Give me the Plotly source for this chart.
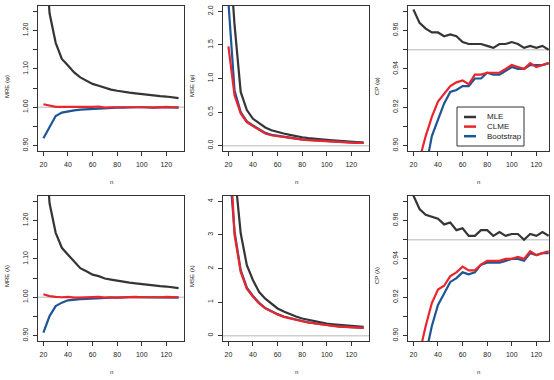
import plotly.graph_objects as go

W, H = 554, 380

n = list(range(20, 131, 5))

# MRE (phi)
mre_phi_mle = [1.48, 1.245, 1.168, 1.126, 1.109, 1.091, 1.078, 1.069, 1.061, 1.056, 1.050, 1.046,
               1.043, 1.040, 1.038, 1.036, 1.034, 1.032, 1.031, 1.029, 1.028, 1.026, 1.024]
mre_phi_clme = [1.008, 1.004, 1.001, 1.001, 1.001, 1.000, 1.000, 1.000, 1.001, 1.002, 0.999, 1.000,
                1.000, 1.000, 1.001, 1.001, 1.000, 1.000, 0.999, 1.000, 1.001, 1.000, 1.000]
mre_phi_boot = [0.919, 0.949, 0.977, 0.986, 0.990, 0.992, 0.994, 0.995, 0.997, 0.998, 0.998, 0.999,
                0.999, 0.999, 1.000, 1.000, 1.000, 0.999, 0.999, 1.000, 1.000, 0.999, 0.999]

# MSE (phi)
mse_phi_mle = [3.1, 1.80, 0.80, 0.53, 0.40, 0.33, 0.27, 0.23, 0.20, 0.18, 0.16, 0.14,
               0.125, 0.112, 0.10, 0.092, 0.085, 0.078, 0.07, 0.062, 0.055, 0.05, 0.045]
mse_phi_clme = [1.48, 0.75, 0.48, 0.35, 0.29, 0.23, 0.18, 0.155, 0.14, 0.127, 0.115, 0.10,
                0.09, 0.082, 0.075, 0.07, 0.065, 0.06, 0.055, 0.05, 0.045, 0.042, 0.04]
mse_phi_boot = [2.14, 0.82, 0.50, 0.36, 0.30, 0.24, 0.19, 0.16, 0.145, 0.13, 0.118, 0.103,
                0.093, 0.085, 0.078, 0.072, 0.067, 0.062, 0.057, 0.052, 0.047, 0.044, 0.041]

# CP (phi)
cp_phi_mle = [0.971, 0.964, 0.961, 0.959, 0.959, 0.957, 0.958, 0.957, 0.954, 0.953, 0.953, 0.953,
              0.952, 0.951, 0.953, 0.953, 0.954, 0.953, 0.951, 0.952, 0.951, 0.952, 0.950]
cp_phi_clme = [0.870, 0.893, 0.905, 0.915, 0.923, 0.927, 0.931, 0.933, 0.934, 0.932, 0.937, 0.937,
               0.938, 0.938, 0.938, 0.940, 0.942, 0.941, 0.940, 0.943, 0.941, 0.942, 0.943]
cp_phi_boot = [0.850, 0.870, 0.888, 0.905, 0.914, 0.922, 0.928, 0.929, 0.931, 0.931, 0.935, 0.935,
               0.938, 0.937, 0.937, 0.939, 0.941, 0.940, 0.940, 0.942, 0.942, 0.942, 0.943]

# MRE (lambda)
mre_lam_mle = [1.48, 1.245, 1.168, 1.129, 1.111, 1.092, 1.076, 1.068, 1.059, 1.055, 1.049, 1.046,
               1.043, 1.040, 1.038, 1.036, 1.034, 1.032, 1.031, 1.029, 1.028, 1.026, 1.024]
mre_lam_clme = [1.008, 1.003, 1.001, 1.000, 1.001, 0.999, 0.999, 1.000, 1.000, 1.001, 0.999, 1.000,
                0.999, 1.000, 1.000, 1.001, 1.000, 1.000, 0.999, 1.000, 1.001, 1.000, 1.000]
mre_lam_boot = [0.908, 0.951, 0.977, 0.986, 0.992, 0.994, 0.995, 0.996, 0.997, 0.998, 0.999, 0.999,
                0.999, 1.000, 1.000, 1.000, 1.000, 0.999, 0.999, 1.000, 1.000, 0.999, 0.999]

# MSE (lambda)
mse_lam_mle = [9.0, 4.92, 3.05, 2.1, 1.65, 1.3, 1.1, 0.96, 0.81, 0.72, 0.64, 0.57,
               0.51, 0.47, 0.43, 0.39, 0.36, 0.34, 0.32, 0.30, 0.29, 0.275, 0.26]
mse_lam_clme = [6.4, 3.0, 1.9, 1.4, 1.16, 0.96, 0.81, 0.71, 0.63, 0.56, 0.51, 0.47,
                0.43, 0.39, 0.36, 0.33, 0.31, 0.29, 0.27, 0.26, 0.25, 0.24, 0.23]
mse_lam_boot = [5.4, 3.1, 1.95, 1.43, 1.18, 0.98, 0.82, 0.72, 0.64, 0.57, 0.52, 0.475,
                0.435, 0.395, 0.365, 0.335, 0.315, 0.295, 0.275, 0.262, 0.252, 0.242, 0.232]

# CP (lambda)
cp_lam_mle = [0.973, 0.966, 0.963, 0.962, 0.961, 0.958, 0.959, 0.955, 0.956, 0.952, 0.952, 0.955,
              0.955, 0.952, 0.954, 0.952, 0.953, 0.953, 0.950, 0.953, 0.952, 0.954, 0.952]
cp_lam_clme = [0.870, 0.891, 0.905, 0.917, 0.924, 0.926, 0.931, 0.933, 0.936, 0.934, 0.934, 0.937,
               0.939, 0.939, 0.939, 0.940, 0.940, 0.941, 0.940, 0.944, 0.942, 0.943, 0.944]
cp_lam_boot = [0.850, 0.870, 0.890, 0.905, 0.916, 0.922, 0.928, 0.930, 0.933, 0.932, 0.933, 0.937,
               0.938, 0.938, 0.938, 0.939, 0.940, 0.940, 0.939, 0.943, 0.942, 0.943, 0.943]

series_names = ["MLE", "CLME", "Bootstrap"]
ytitles = ["MRE (φ)", "MSE (φ)", "CP (φ)", "MRE (λ)", "MSE (λ)", "CP (λ)"]
x_tick_vals = [20, 40, 60, 80, 100, 120]

mre_ticks = [0.90, 0.95, 1.00, 1.05, 1.10, 1.15, 1.20, 1.25]
mre_labels = ["0.90", "", "1.00", "", "1.10", "", "1.20", ""]
mse_phi_ticks = [0.0, 0.5, 1.0, 1.5, 2.0]
mse_phi_labels = ["0.0", "0.5", "1.0", "1.5", "2.0"]
mse_lam_ticks = [0, 1, 2, 3, 4]
mse_lam_labels = ["0", "1", "2", "3", "4"]
cp_ticks = [0.90, 0.91, 0.92, 0.93, 0.94, 0.95, 0.96, 0.97]
cp_labels = ["0.90", "", "0.92", "", "0.94", "", "0.96", ""]

panels = [
    (mre_phi_mle, mre_phi_clme, mre_phi_boot, [0.886, 1.264], mre_ticks, mre_labels, 1.0),
    (mse_phi_mle, mse_phi_clme, mse_phi_boot, [-0.08, 2.08], mse_phi_ticks, mse_phi_labels, 0.0),
    (cp_phi_mle, cp_phi_clme, cp_phi_boot, [0.8972, 0.9728], cp_ticks, cp_labels, 0.95),
    (mre_lam_mle, mre_lam_clme, mre_lam_boot, [0.886, 1.264], mre_ticks, mre_labels, 1.0),
    (mse_lam_mle, mse_lam_clme, mse_lam_boot, [-0.16, 4.16], mse_lam_ticks, mse_lam_labels, 0.0),
    (cp_lam_mle, cp_lam_clme, cp_lam_boot, [0.8972, 0.9728], cp_ticks, cp_labels, 0.95),
]

BLACK = "#353535"
RED = "#E8262B"
BLUE = "#1D5596"
GRAY = "#CFCFCF"
FRAME = "#333333"
FONT = "Liberation Sans, Arial, sans-serif"

col_px = [(38, 184), (223, 369), (408, 549)]
row_px = [(6, 151), (196, 341)]
x_ranges = [[15.6, 134.4], [15.6, 134.4], [15.6, 130.3]]

fig = go.Figure()
layout = dict(
    width=W, height=H, margin=dict(l=0, r=0, t=0, b=0),
    paper_bgcolor="white", plot_bgcolor="white", showlegend=False,
    font=dict(family=FONT, color="#222222"),
)
shapes = []
annotations = []

for i, (mle, clme, boot, yr, yt, yl, ref) in enumerate(panels):
    r, c = divmod(i, 3)
    k = "" if i == 0 else str(i + 1)
    xa, ya = "x" + k, "y" + k
    x0p, x1p = col_px[c]
    y0p, y1p = row_px[r]
    common = dict(showgrid=False, zeroline=False, showline=True, mirror=True,
                  linecolor=FRAME, linewidth=1, ticks="outside", ticklen=4,
                  tickwidth=1, tickcolor=FRAME,
                  tickfont=dict(family=FONT, size=7, color="#222222"))
    layout["xaxis" + k] = dict(domain=[x0p / W, x1p / W], range=x_ranges[c], anchor=ya,
                               tickvals=x_tick_vals, ticklabelstandoff=3, **common)
    layout["yaxis" + k] = dict(domain=[1 - y1p / H, 1 - y0p / H], range=yr, anchor=xa,
                               tickvals=yt, ticktext=yl, tickangle=-90, ticklabelstandoff=2,
                               **common)
    shapes.append(dict(type="line", xref=xa + " domain", yref=ya, x0=0, x1=1, y0=ref, y1=ref,
                       line=dict(color=GRAY, width=1.5), layer="below"))
    for vals, name, col in [(mle, "MLE", BLACK), (boot, "Bootstrap", BLUE), (clme, "CLME", RED)]:
        fig.add_trace(go.Scatter(x=n, y=vals, mode="lines", name=name, xaxis=xa, yaxis=ya,
                                 line=dict(color=col, width=2.2), showlegend=(i == 2)))
    # titles
    annotations.append(dict(text=ytitles[i], xref="paper", yref="paper",
                            x=(x0p - 31) / W, y=1 - (y0p + 80) / H, showarrow=False,
                            textangle=-90, font=dict(family=FONT, size=6, color="#222222"),
                            xanchor="center", yanchor="middle"))
    annotations.append(dict(text="n", xref="paper", yref="paper",
                            x=(x0p + x1p) / 2 / W, y=1 - (y1p + 31) / H, showarrow=False,
                            font=dict(family=FONT, size=6, color="#222222"),
                            xanchor="center", yanchor="middle"))

# legend box (top-right panel)
lx0, lx1, ly0, ly1 = 457, 524, 107, 146
shapes.append(dict(type="rect", xref="paper", yref="paper", x0=lx0 / W, x1=lx1 / W,
                   y0=1 - ly1 / H, y1=1 - ly0 / H, line=dict(color=FRAME, width=1),
                   fillcolor="white", layer="above"))
for j, (name, col) in enumerate([("MLE", BLACK), ("CLME", RED), ("Bootstrap", BLUE)]):
    yy = 117 + j * 9.6
    shapes.append(dict(type="line", xref="paper", yref="paper", x0=464 / W, x1=476 / W,
                       y0=1 - yy / H, y1=1 - yy / H, line=dict(color=col, width=2.5),
                       layer="above"))
    annotations.append(dict(text=name, xref="paper", yref="paper", x=485 / W, y=1 - yy / H,
                            showarrow=False, xanchor="left", yanchor="middle",
                            font=dict(family=FONT, size=8, color="#222222")))

layout["shapes"] = shapes
layout["annotations"] = annotations
fig.update_layout(**layout)
fig.write_html("out.html", config={"displayModeBar": False},
               post_script="document.body.style.margin='0';document.body.style.padding='0';")
